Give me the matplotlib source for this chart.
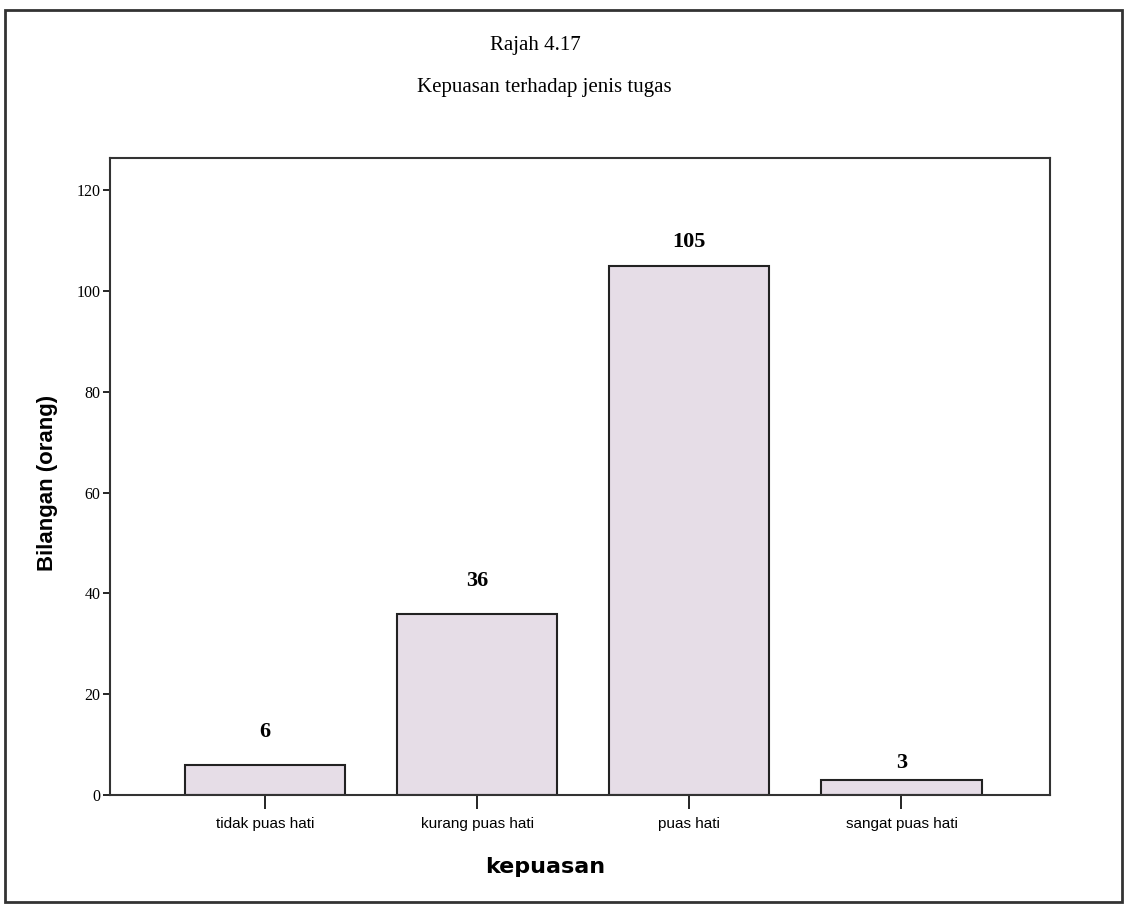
import matplotlib.pyplot as plt
from matplotlib.patches import Rectangle

# Data
kategori = ["tidak puas hati", "kurang puas hati", "puas hati", "sangat puas hati"]
bilangan = [6, 36, 105, 3]
y_ticks = [0, 20, 40, 60, 80, 100, 120]

fig = plt.figure(figsize=(11.25, 9.05), dpi=100)
fig.patch.set_facecolor("white")

# bingkai luar
fig.patches.append(Rectangle((5 / 1125, 3 / 905), 1117 / 1125, 892 / 905,
                             transform=fig.transFigure, fill=False,
                             edgecolor="#333333", linewidth=2))

ax = fig.add_axes([0.0978, 0.1215, 0.8355, 0.7039])
x = range(len(kategori))
bars = ax.bar(x, bilangan, width=0.755, color="#e6dde7",
              edgecolor="#222222", linewidth=1.5)

# jarak label dari atas bar (piksel), ikut gambar asal
jarak = [23, 23, 14, 7]
for xi, v, d in zip(x, bilangan, jarak):
    ax.annotate(str(v), (xi, v), xytext=(0, d * 0.72), textcoords="offset points",
                ha="center", va="bottom", fontsize=16, fontweight="bold",
                family="Liberation Serif")

ax.set_xlim(-0.73, 3.70)
ax.set_ylim(0, 126.4)
ax.set_xticks(list(x))
ax.set_xticklabels(kategori, fontsize=11, family="Liberation Sans")
ax.set_yticks(y_ticks)
ax.set_yticklabels([str(t) for t in y_ticks], fontsize=11.5, family="Liberation Serif")
ax.tick_params(axis="x", length=10, width=1.2, pad=6)
ax.tick_params(axis="y", length=5, width=1.2, pad=2)
for s in ax.spines.values():
    s.set_linewidth(1.5)
    s.set_color("#333333")

ax.set_xlabel("kepuasan", fontsize=16, fontweight="bold")
ax.xaxis.set_label_coords(0.463, -0.098)
ax.set_ylabel("Bilangan (orang)", fontsize=16, fontweight="bold", family="Liberation Sans")
ax.yaxis.set_label_coords(-0.055, 0.49)

fig.text(0.476, 0.950, "Rajah 4.17", ha="center", va="center",
         fontsize=15, family="Liberation Serif")
fig.text(0.484, 0.903, "Kepuasan terhadap jenis tugas", ha="center", va="center",
         fontsize=15, family="Liberation Serif")

fig.savefig("out.png", dpi=100)
